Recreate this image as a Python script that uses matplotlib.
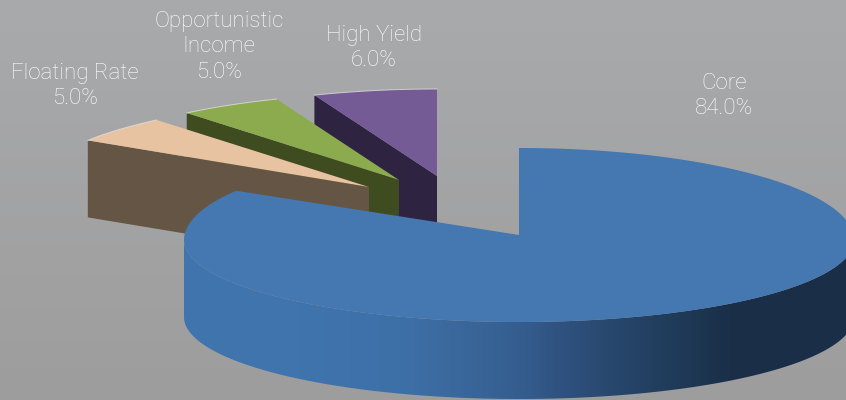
import numpy as np
import matplotlib
matplotlib.use("Agg")
import matplotlib.pyplot as plt
from matplotlib.patches import Polygon
from matplotlib.colors import to_rgb

categories = ["Core", "Floating Rate", "Opportunistic\nIncome", "High Yield"]
values = [84.0, 5.0, 5.0, 6.0]

top_colors = ["#4577b0", "#e8c3a2", "#8cab4e", "#745b96"]
side_colors = [None, "#655545", "#3e4c1f", "#2e2340"]
# pixel offset of each slice's tip from the pie centre (explosion)
explode = [(0, 0), (-150, -48), (-120, -55), (-82, -59)]
label_xy = [(724, 96), (75, 86), (219, 47), (374, 48)]

CX, CY, RX, RY, DEPTH = 519, 235, 335, 87, 77
SLICE_RX = 333

plt.rcParams["font.family"] = ["Roboto", "DejaVu Sans"]
fig = plt.figure(figsize=(8.46, 4.0), dpi=100)
ax = fig.add_axes([0, 0, 1, 1])
ax.set_xlim(0, 846)
ax.set_ylim(400, 0)
ax.axis("off")

# background
c0, c1 = np.array(to_rgb("#a9aaac")), np.array(to_rgb("#9d9d9d"))
g = np.linspace(0, 1, 256)[:, None, None]
ax.imshow(c0 + (c1 - c0) * g, extent=[0, 846, 400, 0], aspect="auto", zorder=0)


def arc(t0, t1, cx, cy, n=200, rx=SLICE_RX):
    t = np.radians(np.linspace(t0, t1, n))
    return np.column_stack([cx + rx * np.sin(t), cy - RY * np.cos(t)])


def core_arc(t0, t1, n=800):
    # the near half of the disc is a little flatter than the far half
    t = np.radians(np.linspace(t0, t1, n))
    c = np.cos(t)
    return np.column_stack([CX + RX * np.sin(t),
                            CY + 5 - np.where(c > 0, RY + 5, RY - 5) * c])


cum = np.concatenate([[0], np.cumsum(values)]) * 3.6

# exploded slices, back to front
order = [3, 2, 1]
for z, i in enumerate(order):
    tx, ty = CX + explode[i][0], CY + explode[i][1]
    a = arc(cum[i], cum[i + 1], tx, ty)
    left = a[0]
    tip = np.array([tx, ty])
    d = np.array([0, DEPTH])
    ax.add_patch(Polygon([left, tip, tip + d, left + d], closed=True,
                         fc=side_colors[i], ec="none", zorder=2 + z * 2))
    ax.add_patch(Polygon(np.vstack([a, tip]), closed=True, fc=top_colors[i],
                         ec="none", zorder=3 + z * 2))
    ax.plot(a[:, 0], a[:, 1], color="#dfe0dc", lw=0.7, alpha=0.8, zorder=3 + z * 2)

# core side wall with horizontal gradient
stops_x = [184, 300, 400, 450, 520, 560, 600, 680, 730, 846]
stops_c = ["#3f75ae", "#4074ad", "#3e70a8", "#3b699e", "#355e8f", "#2f5280",
           "#2a4a72", "#1f3a58", "#1a2f48", "#1a2e47"]
xs = np.linspace(0, 846, 847)
rgb = np.array([to_rgb(c) for c in stops_c])
grad = np.stack([np.interp(xs, stops_x, rgb[:, k]) for k in range(3)], axis=1)[None, :, :]
front = core_arc(90, 270)
wall = Polygon(np.vstack([front, (front + [0, DEPTH])[::-1]]), closed=True,
               transform=ax.transData, fc="none", ec="none")
ax.add_patch(wall)
im = ax.imshow(grad, extent=[0, 846, 400, 0], aspect="auto", zorder=10)
im.set_clip_path(wall)

# core top
a = core_arc(cum[0], cum[1])
ax.add_patch(Polygon(np.vstack([a, [CX, CY]]), closed=True, fc=top_colors[0],
                     ec="none", zorder=11))
ax.set_xlim(0, 846)
ax.set_ylim(400, 0)

for name, val, (x, y) in zip(categories, values, label_xy):
    ax.text(x, y, f"{name}\n{val:.1f}%", color="white", fontsize=16,
            fontweight="light", ha="center", va="center", linespacing=1.3, zorder=20)

fig.savefig("out.png", dpi=100)
